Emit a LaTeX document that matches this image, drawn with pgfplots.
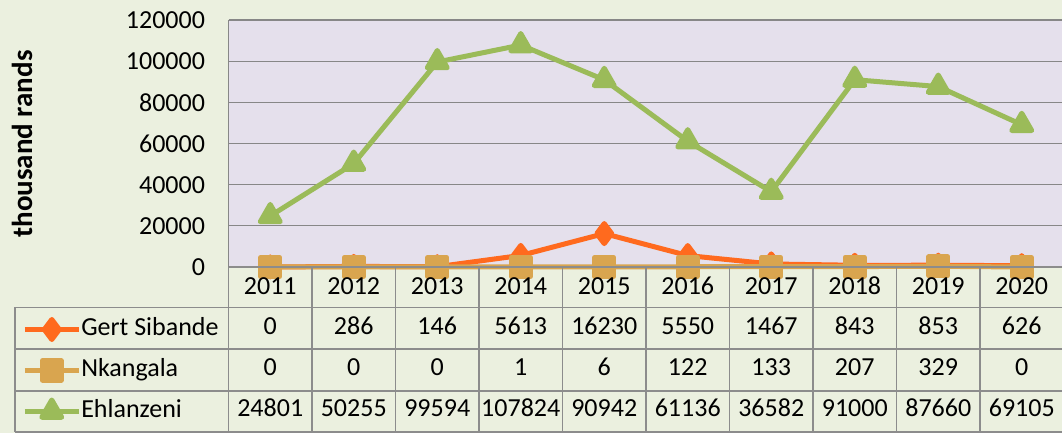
\documentclass[border=0pt]{standalone}
\usepackage{fontspec}
\setmainfont{Carlito}
\usepackage{pgfplots}
\pgfplotsset{compat=1.18}
\definecolor{bgc}{HTML}{EBF0DF}
\definecolor{plotbg}{HTML}{E5E0EC}
\definecolor{gridc}{HTML}{878787}
\definecolor{tblc}{HTML}{8C8C8C}
\definecolor{gert}{HTML}{FF6A1E}
\definecolor{nk}{HTML}{D9A54F}
\definecolor{eh}{HTML}{9BBB59}
\newcommand{\tf}{\fontsize{26}{30}\selectfont}
\begin{document}
\begin{tikzpicture}[x=1pt,y=1pt]
\fill[bgc] (0,0) rectangle (1062,433);
\begin{axis}[at={(228.5pt,166pt)}, anchor=south west, scale only axis,
  width=835pt, height=247pt,
  xmin=2010.5, xmax=2020.5, ymin=0, ymax=120000,
  ytick={0,20000,40000,60000,80000,100000,120000}, xtick=\empty,
  ymajorgrids, grid style={gridc, line width=1.3pt},
  axis background/.style={fill=plotbg},
  axis line style={draw=none}, major tick length=0pt,
  yticklabel style={font=\tf, xshift=-20pt},
  scaled y ticks=false,
  /pgf/number format/fixed, /pgf/number format/1000 sep={},
  /pgf/number format/assume math mode=true,
  clip=false,
  legend image code/.code={\draw[mark repeat=2,mark phase=2,#1] plot coordinates {(0pt,7pt)(27pt,7pt)(54pt,7pt)};},
  legend style={at={(-0.24700,-0.19838)}, anchor=north west, draw=none, fill=none,
    inner sep=0pt, outer sep=0pt, row sep=0pt, font=\tf,
    nodes={inner sep=0pt, text height=19pt, text depth=22pt},
    cells={anchor=base west},
    /tikz/every even column/.append style={column sep=5pt}},
  legend cell align=left,
  every axis plot/.append style={line width=5pt, line join=round},
]
\addplot[gert, mark=diamond*, mark size=10pt, mark options={solid}] coordinates {
 (2011,0) (2012,286) (2013,146) (2014,5613) (2015,16230) (2016,5550) (2017,1467) (2018,843) (2019,853) (2020,626)};
\addlegendentry{Gert Sibande}
\addplot[nk, mark=square*, mark size=9.5pt, mark options={solid}] coordinates {
 (2011,0) (2012,0) (2013,0) (2014,1) (2015,6) (2016,122) (2017,133) (2018,207) (2019,329) (2020,0)};
\addlegendentry{Nkangala}
\addplot[eh, mark=triangle*, mark size=11.5pt, mark options={solid}] coordinates {
 (2011,24801) (2012,50255) (2013,99594) (2014,107824) (2015,90942) (2016,61136) (2017,36582) (2018,91000) (2019,87660) (2020,69105)};
\addlegendentry{Ehlanzeni}
\end{axis}
\draw[gridc, line width=1.5pt] (228.5,166) -- (228.5,413);
\begin{scope}[tblc, line width=1.3pt]
\draw (228.5,166) -- (1062,166);
\draw (15,125.5) -- (1062,125.5);
\draw (15,84) -- (1062,84);
\draw (15,42) -- (1062,42);
\draw (15,1) -- (1062,1);
\draw (15,125.5) -- (15,1);
\foreach \i in {0,...,9} \draw (228.5+83.5*\i,166) -- (228.5+83.5*\i,1);
\end{scope}
\begin{scope}[every node/.style={font=\tf, anchor=base, inner sep=0pt}]
\foreach \v [count=\i from 0] in {2011,2012,2013,2014,2015,2016,2017,2018,2019,2020}
  \node at (270.25+83.5*\i,138) {\v};
\foreach \v [count=\i from 0] in {0,286,146,5613,16230,5550,1467,843,853,626}
  \node at (270.25+83.5*\i,98) {\v};
\foreach \v [count=\i from 0] in {0,0,0,1,6,122,133,207,329,0}
  \node at (270.25+83.5*\i,57) {\v};
\foreach \v [count=\i from 0] in {24801,50255,99594,107824,90942,61136,36582,91000,87660,69105}
  \node at (270.25+83.5*\i,16) {\v};
\end{scope}
\node[rotate=90, font=\fontsize{29}{34}\selectfont\bfseries, inner sep=0pt] at (22,289) {thousand rands};
\pgfresetboundingbox
\useasboundingbox (0,0) rectangle (1062,433);
\end{tikzpicture}
\end{document}
